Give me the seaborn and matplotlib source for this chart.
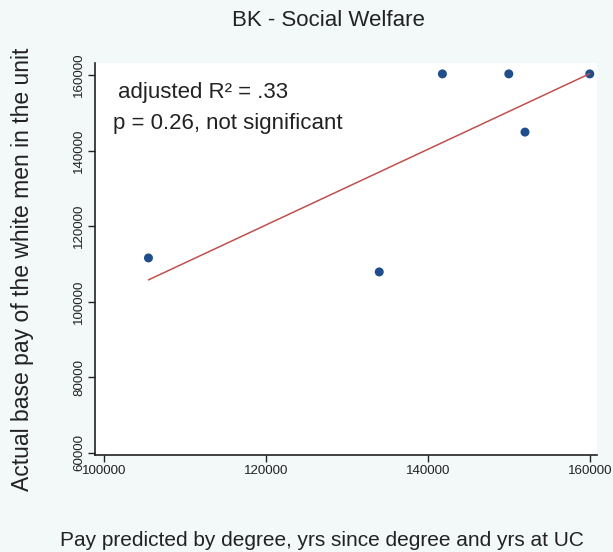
import matplotlib
matplotlib.use('Agg')
import matplotlib.pyplot as plt
import seaborn as sns
import pandas as pd

# Predicted pay (x) vs actual base pay of white men (y)
predicted_pay = [105500, 134000, 141800, 150000, 152000, 160000]
actual_pay = [111600, 107900, 160300, 160300, 144900, 160300]

x_ticks = [100000, 120000, 140000, 160000]
y_ticks = [60000, 80000, 100000, 120000, 140000, 160000]

sns.set_theme(style="white")
plt.rcParams['font.family'] = ['Liberation Sans', 'DejaVu Sans']

df = pd.DataFrame({"predicted": predicted_pay, "actual": actual_pay})

fig = plt.figure(figsize=(6.13, 5.52), dpi=100, facecolor='#f3f8f9')
ax = fig.add_axes([0.155, 0.176, 0.819, 0.71])
ax.set_facecolor('white')

sns.regplot(data=df, x="predicted", y="actual", ax=ax, ci=None, truncate=True,
            scatter_kws=dict(color='#1f4e8c', s=42, edgecolor='none', alpha=1),
            line_kws=dict(color='#c0504d', linewidth=1.1))

ax.set_xlim(98900, 160900)
ax.set_ylim(59500, 163200)
ax.set_xticks(x_ticks)
ax.set_yticks(y_ticks)
ax.set_xticklabels([str(v) for v in x_ticks], fontsize=9.6)
ax.set_yticklabels([str(v) for v in y_ticks], fontsize=9.6, rotation=90, va='center')
ax.tick_params(axis='both', direction='out', length=5, width=1, color='#222222',
               labelcolor='#222222', bottom=True, left=True, pad=2)

for side in ['top', 'right']:
    ax.spines[side].set_visible(False)
for side in ['left', 'bottom']:
    ax.spines[side].set_color('#222222')
    ax.spines[side].set_linewidth(1.2)

ax.set_xlabel("")
ax.set_ylabel("")

ax.text(0.045, 0.925, "adjusted R\u00b2 = .33", transform=ax.transAxes,
        fontsize=16, color='#222222', va='center', ha='left')
ax.text(0.035, 0.845, "p = 0.26, not significant", transform=ax.transAxes,
        fontsize=16, color='#222222', va='center', ha='left')

fig.text(0.535, 0.963, "BK - Social Welfare", fontsize=16, ha='center', va='center', color='#222222')
fig.text(0.036, 0.513, "Actual base pay of the white men in the unit", fontsize=16.5,
         rotation=90, ha='center', va='center', color='#222222')
fig.text(0.098, 0.021, "Pay predicted by degree, yrs since degree and yrs at UC", fontsize=15,
         ha='left', va='center', color='#222222')

fig.savefig("out.png", dpi=100, facecolor=fig.get_facecolor())
